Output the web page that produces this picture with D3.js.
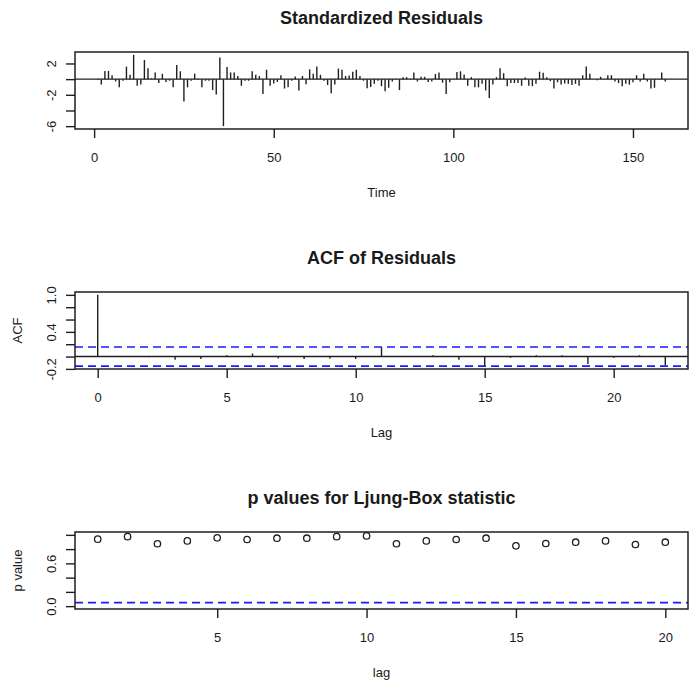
<!DOCTYPE html>
<html>
<head>
<meta charset="utf-8">
<script src="https://cdn.jsdelivr.net/npm/d3@7"></script>
<style>
  html, body { margin: 0; padding: 0; background: #fff; }
  svg { display: block; }
  text { font-family: "Liberation Sans", Arial, Helvetica, sans-serif; fill: #1a1a1a; }
</style>
</head>
<body>
<script>
// ---------------- DATA ----------------
const residuals = [
  0.05, -0.7, 1.05, 1.05, 0.5, -0.3, -1.05, -0.2, 1.6, 0.55,
  3.1, -0.85, -0.7, 2.45, 1.4, 0.1, 0.85, -0.5, 0.68, -0.35,
  -0.2, -1.05, 1.8, 1.0, -2.85, -1.05, -0.2, 0.7, 0.05, -1.05,
  -0.2, -0.2, -1.4, -1.95, 2.75, -6.0, 1.55, 0.85, 0.85, 0.4,
  -0.85, -0.2, -0.2, 1.0, 0.55, 0.38, -1.9, 1.2, -0.85, -0.55,
  -0.35, 0.5, -1.2, -1.05, -0.2, 0.35, -1.45, 0.4, -0.65, 1.25,
  0.7, 1.6, 0.55, -0.2, -0.75, -1.8, -0.7, 1.35, 1.2, 0.4,
  0.45, 0.95, 1.2, 0.4, -0.2, -1.15, -1.0, -0.6, -0.2, -0.9,
  -1.55, -1.1, -0.3, 0.05, -1.4, 0.25, 0.25, 0.05, 0.85, -0.3,
  0.3, 0.3, -0.35, -0.3, 0.65, 0.85, -0.45, -1.9, -0.4, 0.05,
  0.9, 1.0, 0.6, -0.85, 0.25, -1.05, -1.05, -0.6, -1.45, -2.4,
  -0.7, 0.25, 1.4, 0.75, -0.9, -0.5, -0.5, -0.5, -0.85, 0.2,
  -0.85, -0.9, -0.6, 0.95, 0.8, 0.25, -0.25, -1.2, -0.4, -0.7,
  -0.55, -0.6, -0.75, -0.6, -0.85, 0.5, 1.6, 0.7, 0.02, -0.15,
  0.3, 0.02, 0.5, 0.5, -0.3, -0.5, -0.9, -0.6, -0.7, -0.4,
  0.5, -0.3, 0.7, -0.3, -1.2, -1.1, 0.02, 0.85, -0.3
];
const residTimeTicks = [0, 50, 100, 150];
const residYTicks = [-6, -4, -2, 0, 2];
const residYLabels = ["-6", "", "-2", "", "2"];

const acfLags = [0,1,2,3,4,5,6,7,8,9,10,11,12,13,14,15,16,17,18,19,20,21,22];
const acfValues = [1.0, 0.005, -0.01, -0.05, -0.04, 0.02, 0.05, -0.03, -0.04, -0.03,
  -0.04, 0.15, 0.0, 0.02, -0.05, -0.15, -0.02, 0.02, 0.02, -0.12, -0.02, 0.02, -0.14];
const acfXTicks = [0, 5, 10, 15, 20];
const acfYTicks = [-0.2, 0, 0.2, 0.4, 0.6, 0.8, 1.0];
const acfYLabels = ["-0.2", "", "", "0.4", "", "", "1.0"];

const lbLags = [1,2,3,4,5,6,7,8,9,10,11,12,13,14,15,16,17,18,19,20];
const lbPValues = [0.94, 0.975, 0.875, 0.915, 0.958, 0.935, 0.953, 0.953, 0.975, 0.985,
  0.875, 0.915, 0.935, 0.953, 0.846, 0.879, 0.897, 0.915, 0.865, 0.897];
const lbXTicks = [5, 10, 15, 20];
const lbYTicks = [0, 0.2, 0.4, 0.6, 0.8, 1.0];
const lbYLabels = ["0.0", "", "", "0.6", "", ""];
const lbThreshold = 0.05;

const titles = ["Standardized Residuals", "ACF of Residuals", "p values for Ljung-Box statistic"];
const xTitles = ["Time", "Lag", "lag"];
const yTitles = ["", "ACF", "p value"];

// ---------------- LAYOUT ----------------
const W = 689, H = 684;
const L = 75, R = 688;
const boxes = [{top: 52, bottom: 129}, {top: 292, bottom: 369}, {top: 532, bottom: 609}];
const ink = "#1f1f1f";
const blue = "#1a1aff";

const svg = d3.select("body").append("svg").attr("width", W).attr("height", H);

function extend(lo, hi) { const d = (hi - lo) * 0.04; return [lo - d, hi + d]; }

function frame(i, x, y, xTicks, yTicks, yLabels) {
  const b = boxes[i];
  const g = svg.append("g");
  // x axis
  const xa = g.append("g").attr("transform", `translate(0,${b.bottom})`)
    .call(d3.axisBottom(x).tickValues(xTicks).tickSize(9).tickPadding(15).tickFormat(d3.format("d")));
  xa.select(".domain").remove();
  xa.selectAll("line").attr("stroke", ink).attr("stroke-width", 1.4);
  xa.selectAll("text").style("font-size", "13px").attr("fill", ink);
  // y axis
  const ya = g.append("g").attr("transform", `translate(${L},0)`)
    .call(d3.axisLeft(y).tickValues(yTicks).tickSize(9).tickFormat((d, k) => yLabels[k]));
  ya.select(".domain").remove();
  ya.selectAll("line").attr("stroke", ink).attr("stroke-width", 1.4);
  ya.selectAll("text").style("font-size", "13px").attr("fill", ink)
    .attr("transform", "rotate(-90)").attr("x", 0).attr("y", -19).attr("dy", 0)
    .attr("text-anchor", "middle");
  // titles
  svg.append("text").attr("x", (L + R) / 2).attr("y", b.top - 28)
    .attr("text-anchor", "middle").style("font-size", "18px").style("font-weight", "bold")
    .text(titles[i]);
  svg.append("text").attr("x", (L + R) / 2).attr("y", b.bottom + 68)
    .attr("text-anchor", "middle").style("font-size", "13px").text(xTitles[i]);
  if (yTitles[i]) {
    svg.append("text").attr("transform", `translate(22,${(b.top + b.bottom) / 2}) rotate(-90)`)
      .attr("text-anchor", "middle").style("font-size", "13px").text(yTitles[i]);
  }
  return g;
}
function box(i) {
  const b = boxes[i];
  svg.append("rect").attr("x", L).attr("y", b.top).attr("width", R - L).attr("height", b.bottom - b.top)
    .attr("fill", "none").attr("stroke", ink).attr("stroke-width", 1.5);
}

// ---------------- PANEL 1: standardized residuals ----------------
{
  const n = residuals.length;
  const x = d3.scaleLinear().domain(extend(1, n)).range([L, R]);
  const y = d3.scaleLinear().domain(extend(d3.min(residuals), d3.max(residuals))).range([boxes[0].bottom, boxes[0].top]);
  frame(0, x, y, residTimeTicks, residYTicks, residYLabels);
  svg.append("line").attr("x1", L).attr("x2", R).attr("y1", y(0)).attr("y2", y(0))
    .attr("stroke", ink).attr("stroke-width", 1.4);
  svg.append("g").selectAll("line").data(residuals).join("line")
    .attr("x1", (d, i) => x(i + 1)).attr("x2", (d, i) => x(i + 1))
    .attr("y1", y(0)).attr("y2", d => y(d))
    .attr("stroke", ink).attr("stroke-width", 1.4);
  box(0);
}

// ---------------- PANEL 2: ACF ----------------
{
  const clim = 1.96 / Math.sqrt(residuals.length);
  const x = d3.scaleLinear().domain(extend(d3.min(acfLags), d3.max(acfLags))).range([L, R]);
  const lo = Math.min(d3.min(acfValues), -clim), hi = Math.max(d3.max(acfValues), clim);
  const y = d3.scaleLinear().domain(extend(lo, hi)).range([boxes[1].bottom, boxes[1].top]);
  frame(1, x, y, acfXTicks, acfYTicks, acfYLabels);
  svg.append("line").attr("x1", L).attr("x2", R).attr("y1", y(0)).attr("y2", y(0))
    .attr("stroke", ink).attr("stroke-width", 1.4);
  [clim, -clim].forEach(c => {
    svg.append("line").attr("x1", L).attr("x2", R).attr("y1", y(c)).attr("y2", y(c))
      .attr("stroke", blue).attr("stroke-width", 1.6).attr("stroke-dasharray", "8,5");
  });
  svg.append("g").selectAll("line").data(acfValues).join("line")
    .attr("x1", (d, i) => x(acfLags[i])).attr("x2", (d, i) => x(acfLags[i]))
    .attr("y1", y(0)).attr("y2", d => y(d))
    .attr("stroke", ink).attr("stroke-width", 1.4);
  box(1);
}

// ---------------- PANEL 3: Ljung-Box p values ----------------
{
  const x = d3.scaleLinear().domain(extend(d3.min(lbLags), d3.max(lbLags))).range([L, R]);
  const y = d3.scaleLinear().domain(extend(0, 1)).range([boxes[2].bottom, boxes[2].top]);
  frame(2, x, y, lbXTicks, lbYTicks, lbYLabels);
  svg.append("line").attr("x1", L).attr("x2", R).attr("y1", y(lbThreshold)).attr("y2", y(lbThreshold))
    .attr("stroke", blue).attr("stroke-width", 1.6).attr("stroke-dasharray", "8,5");
  svg.append("g").selectAll("circle").data(lbPValues).join("circle")
    .attr("cx", (d, i) => x(lbLags[i])).attr("cy", d => y(d)).attr("r", 3.2)
    .attr("fill", "none").attr("stroke", ink).attr("stroke-width", 1.3);
  box(2);
}
</script>
</body>
</html>
